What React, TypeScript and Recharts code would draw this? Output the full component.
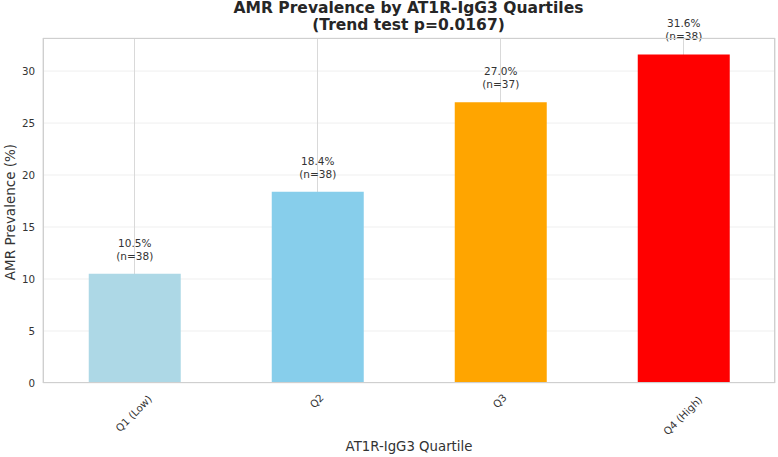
import { BarChart, Bar, XAxis, YAxis, CartesianGrid, Cell, LabelList, Label } from 'recharts';

const quartiles = ['Q1 (Low)', 'Q2', 'Q3', 'Q4 (High)'];
const prevalence = [10.5, 18.4, 27.0, 31.6];
const counts = [38, 38, 37, 38];
const barColors = ['#add8e6', '#87ceeb', '#ffa500', '#ff0000'];
const yTicks = [0, 5, 10, 15, 20, 25, 30];

const data = quartiles.map((q, i) => ({ name: q, value: prevalence[i], n: counts[i] }));

const FONT = '"DejaVu Sans", sans-serif';

function XTick(props: any) {
  const { x, payload } = props;
  const label = String(payload?.value ?? '');
  const len = label.length * 5.9;
  const cy = 393 + ((len + 10) * 0.7071) / 2;
  return (
    <text
      x={x - 1}
      y={cy}
      textAnchor="middle"
      dominantBaseline="central"
      transform={`rotate(-45, ${x - 1}, ${cy})`}
      fontSize={10.3}
      fontFamily={FONT}
      fill="#333"
    >
      {label}
    </text>
  );
}

function BarLabel(props: any) {
  const { x, y, width, value } = props;
  const v = Number(value);
  const idx = prevalence.indexOf(v);
  const n = idx >= 0 ? counts[idx] : '';
  const cx = Number(x) + Number(width) / 2;
  const top = Number(y);
  return (
    <g>
      <text x={cx} y={top - 31} textAnchor="middle" dominantBaseline="central" fontSize={10.5} fontFamily={FONT} fill="#333">
        {`${v.toFixed(1)}%`}
      </text>
      <text x={cx} y={top - 18} textAnchor="middle" dominantBaseline="central" fontSize={10.5} fontFamily={FONT} fill="#333">
        {`(n=${n})`}
      </text>
    </g>
  );
}

export default function App() {
  return (
    <div style={{ position: 'absolute', left: 0, top: 0, width: 778, height: 457, background: '#fff', fontFamily: FONT }}>
      <div
        style={{
          position: 'absolute',
          left: 0,
          top: 0,
          width: 817,
          textAlign: 'center',
          fontWeight: 'bold',
          fontSize: 15.5,
          lineHeight: '17px',
          color: '#262626',
        }}
      >
        AMR Prevalence by AT1R-IgG3 Quartiles
        <br />
        (Trend test p=0.0167)
      </div>
      <BarChart
        width={778}
        height={457}
        data={data}
        margin={{ top: 38, right: 3, bottom: 0, left: 0 }}
        barCategoryGap="25%"
      >
        <CartesianGrid vertical={false} stroke="#ebebeb" strokeWidth={0.8} />
        <CartesianGrid horizontal={false} stroke="#d9d9d9" strokeWidth={1} />
        <XAxis
          dataKey="name"
          height={74}
          tickLine={false}
          axisLine={false}
          interval={0}
          tick={<XTick />}
        >
          <Label
            content={() => (
              <text x={409} y={446} textAnchor="middle" dominantBaseline="central" fontSize={13.3} fontFamily={FONT} fill="#333">
                AT1R-IgG3 Quartile
              </text>
            )}
          />
        </XAxis>
        <YAxis
          width={43}
          domain={[0, 33.18]}
          ticks={yTicks}
          tickLine={false}
          axisLine={false}
          tickSize={6}
          tickMargin={2}
          tick={{ fontSize: 10.3, fill: '#333', fontFamily: FONT }}
        >
          <Label
            content={() => (
              <text
                x={10}
                y={212}
                textAnchor="middle"
                dominantBaseline="central"
                transform="rotate(-90, 10, 212)"
                fontSize={13.5}
                fontFamily={FONT}
                fill="#333"
              >
                AMR Prevalence (%)
              </text>
            )}
          />
        </YAxis>
        <Bar dataKey="value" isAnimationActive={false}>
          {data.map((_d, i) => (
            <Cell key={`cell-${i}`} fill={barColors[i]} />
          ))}
          <LabelList dataKey="value" content={BarLabel} />
        </Bar>
      </BarChart>
      <div
        style={{
          position: 'absolute',
          left: 43,
          top: 38,
          width: 732,
          height: 345,
          boxSizing: 'border-box',
          border: '1px solid #cfcfcf',
          pointerEvents: 'none',
        }}
      />
    </div>
  );
}
